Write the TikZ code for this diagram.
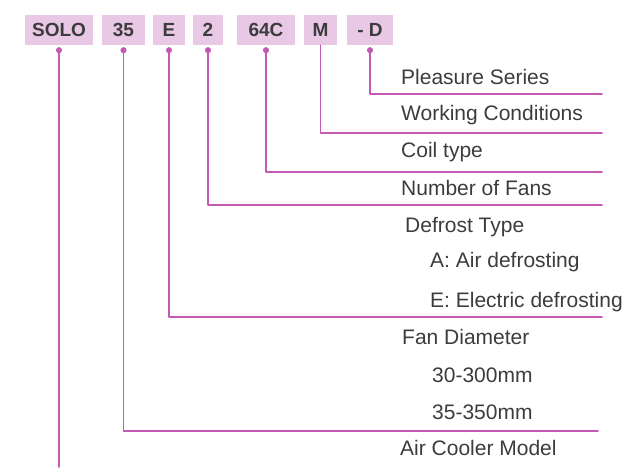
\documentclass[tikz,border=0pt]{standalone}
\usepackage{fontspec}
\setmainfont{Liberation Sans}
\usetikzlibrary{arrows.meta}
\definecolor{leadc}{RGB}{196,90,179}
\definecolor{boxc}{RGB}{232,200,228}
\definecolor{txtc}{RGB}{60,60,60}
\tikzset{code/.style={fill=boxc,text=txtc,font=\fontsize{19}{19}\selectfont\bfseries,minimum height=30pt,inner sep=0pt},
  lbl/.style={anchor=base west,text=txtc,font=\fontsize{21}{23}\selectfont,inner sep=0pt},
  wire/.style={draw=leadc,line width=1.6pt},
  dotwire/.style={wire,{Circle[length=6pt,width=6pt]}-,shorten <=2pt}}

\begin{document}
\begin{tikzpicture}[line cap=round,line join=round,x=1pt,y=-1pt]
\useasboundingbox (0,0) rectangle (631,467);
\node[code,minimum width=68pt] (solo) at (59,30) {SOLO};
\node[code,minimum width=43pt] (size) at (123.5,30) {35};
\node[code,minimum width=32pt] (defr) at (169,30) {E};
\node[code,minimum width=30pt] (fans) at (208,30) {2};
\node[code,minimum width=58pt] (coil) at (266,30) {64C};
\node[code,minimum width=33pt] (work) at (320.5,30) {M};
\node[code,minimum width=46pt] (ser) at (370,30) {- D};

\node[lbl] (tser) at (401,84) {Pleasure Series};
\node[lbl] (twork) at (401,120) {Working Conditions};
\node[lbl] (tcoil) at (401,157) {Coil type};
\node[lbl] (tfans) at (401,195) {Number of Fans};
\node[lbl] (tdefr) at (405,232) {Defrost Type};
\node[lbl] (tdefa) at (430,267) {A: Air defrosting};
\node[lbl] (tdefe) at (430,307) {E: Electric defrosting};
\node[lbl] (tsize) at (402,344) {Fan Diameter};
\node[lbl] (tsza) at (432,382) {30-300mm};
\node[lbl] (tszb) at (432,419) {35-350mm};
\node[lbl] (tsolo) at (400,455) {Air Cooler Model};

\coordinate (eser) at (602,94);
\coordinate (ework) at (602,133);
\coordinate (ecoil) at (602,172);
\coordinate (efans) at (602,205);
\coordinate (edefr) at (602,317);
\coordinate (esize) at (598,431);
\coordinate (esolo) at (59,467);

\draw[dotwire] (ser.south) |- (eser);
\draw[wire] (work.south) |- (ework);
\draw[dotwire] (coil.south) |- (ecoil);
\draw[dotwire] (fans.south) |- (efans);
\draw[dotwire] (defr.south) |- (edefr);
\draw[dotwire] (size.south) |- (esize);
\draw[dotwire] (solo.south) -- (esolo);
\end{tikzpicture}
\end{document}
